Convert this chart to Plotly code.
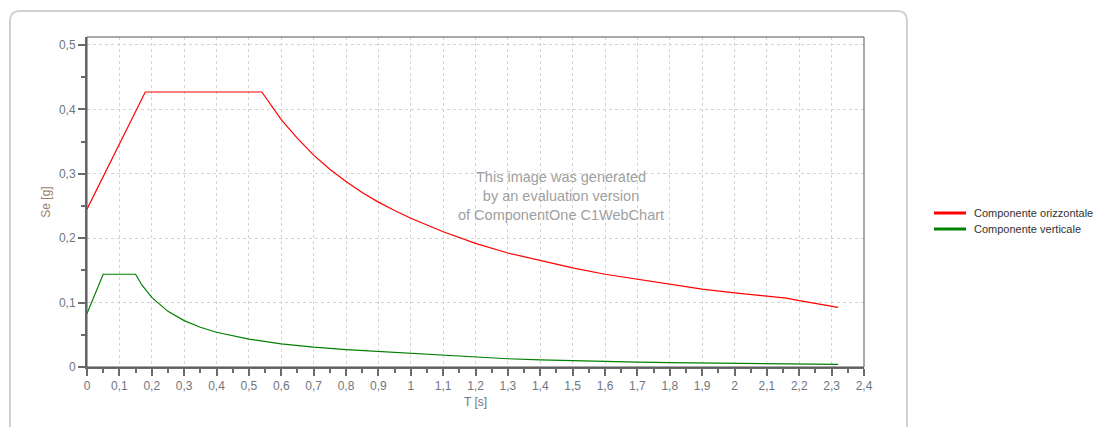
import plotly.graph_objects as go

# ---- data ----
T_oriz = [0, 0.18, 0.54, 0.56, 0.58, 0.6, 0.65, 0.7, 0.75, 0.8, 0.85, 0.9, 0.95, 1.0,
          1.1, 1.2, 1.3, 1.4, 1.5, 1.6, 1.7, 1.8, 1.9, 2.0, 2.1, 2.16, 2.2, 2.25, 2.32]
Se_oriz = [0.245, 0.427, 0.427, 0.412, 0.398, 0.384, 0.355, 0.329, 0.307, 0.288, 0.271, 0.256, 0.243, 0.231,
           0.210, 0.192, 0.177, 0.165, 0.154, 0.144, 0.136, 0.128, 0.121, 0.115, 0.110, 0.107, 0.103, 0.0986, 0.0925]

T_vert = [0, 0.05, 0.15, 0.17, 0.2, 0.25, 0.3, 0.35, 0.4, 0.5, 0.6, 0.7, 0.8, 0.9, 1.0,
          1.1, 1.2, 1.3, 1.4, 1.5, 1.6, 1.7, 1.8, 1.9, 2.0, 2.1, 2.2, 2.32]
Se_vert = [0.083, 0.144, 0.144, 0.127, 0.108, 0.0864, 0.072, 0.0617, 0.054, 0.0432, 0.036, 0.0309, 0.027, 0.024, 0.0216,
           0.0179, 0.0150, 0.0128, 0.0110, 0.0096, 0.0084, 0.0075, 0.0067, 0.0060, 0.0054, 0.0049, 0.0045, 0.0040]

series_names = ["Componente orizzontale", "Componente verticale"]
series_colors = ["#ff0000", "#008000"]

x_tickvals = [0, 0.1, 0.2, 0.3, 0.4, 0.5, 0.6, 0.7, 0.8, 0.9, 1, 1.1, 1.2,
              1.3, 1.4, 1.5, 1.6, 1.7, 1.8, 1.9, 2, 2.1, 2.2, 2.3, 2.4]
x_ticktext = ["0", "0,1", "0,2", "0,3", "0,4", "0,5", "0,6", "0,7", "0,8", "0,9", "1", "1,1", "1,2",
              "1,3", "1,4", "1,5", "1,6", "1,7", "1,8", "1,9", "2", "2,1", "2,2", "2,3", "2,4"]
y_tickvals = [0, 0.1, 0.2, 0.3, 0.4, 0.5]
y_ticktext = ["0", "0,1", "0,2", "0,3", "0,4", "0,5"]

x_title = "T [s]"
y_title = "Se [g]"
watermark = "This image was generated<br>by an evaluation version<br>of ComponentOne C1WebChart"

# ---- layout geometry (page pixels); the figure sits at an 8px page offset ----
OFF = 8
W, H = 1107 - OFF, 427 - OFF
L, R, TOP, BOT = 87 - OFF, 864 - OFF, 37 - OFF, 367 - OFF
pw, ph = R - L, BOT - TOP


def px(xp):
    return (xp - OFF - L) / pw


def py(yp):
    return (BOT - (yp - OFF)) / ph


fig = go.Figure()
for T, S, name, col in [(T_oriz, Se_oriz, series_names[0], series_colors[0]),
                        (T_vert, Se_vert, series_names[1], series_colors[1])]:
    fig.add_trace(go.Scatter(x=T, y=S, mode="lines", name=name,
                             line=dict(color=col, width=1.2), showlegend=False))

FONT = "Liberation Sans, Arial, sans-serif"
tick_font = dict(family=FONT, size=12, color="#6f7680")
GRID_DASH = "3px,3px"

fig.update_layout(
    width=W, height=H,
    margin=dict(l=L, r=W - R, t=TOP, b=H - BOT),
    paper_bgcolor="white", plot_bgcolor="white",
    font=dict(family=FONT, size=12, color="#6f7680"),
    xaxis=dict(
        range=[0, 2.4], tickvals=x_tickvals, ticktext=x_ticktext,
        showgrid=True, gridcolor="#d4d4d4", griddash=GRID_DASH, gridwidth=1,
        zeroline=False, showline=True, linecolor="#6a6a6a", linewidth=2,
        ticks="outside", ticklen=7, tickwidth=2, tickcolor="#6a6a6a",
        tickfont=tick_font,
        minor=dict(dtick=0.05, tick0=0, ticks="outside", ticklen=4, tickwidth=2,
                   tickcolor="#6a6a6a", showgrid=False),
        title=dict(text=x_title, standoff=5, font=dict(size=12, color="#6f7680")),
    ),
    yaxis=dict(
        range=[0, 0.5124], tickvals=y_tickvals, ticktext=y_ticktext,
        showgrid=True, gridcolor="#d4d4d4", griddash=GRID_DASH, gridwidth=1,
        zeroline=False, showline=True, linecolor="#6a6a6a", linewidth=2,
        ticks="outside", ticklen=7, tickwidth=2, tickcolor="#6a6a6a",
        tickfont=tick_font,
        minor=dict(dtick=0.05, tick0=0, ticks="outside", ticklen=4, tickwidth=2,
                   tickcolor="#6a6a6a", showgrid=False),
        title=dict(text=y_title, standoff=6, font=dict(size=12, color="#9a8070")),
    ),
)

shapes = []
# frame (top and right)
shapes.append(dict(type="rect", xref="paper", yref="paper", x0=0, x1=1, y0=0, y1=1,
                   line=dict(color="#555555", width=1), layer="above"))

# rounded outer border
bx0, bx1, by0 = px(10), px(907), py(11)
byb = py(440)
rx, ry = 10 / pw, 10 / ph
path = (f"M {bx0},{byb} L {bx0},{by0 - ry} Q {bx0},{by0} {bx0 + rx},{by0} "
        f"L {bx1 - rx},{by0} Q {bx1},{by0} {bx1},{by0 - ry} L {bx1},{byb}")
shapes.append(dict(type="path", xref="paper", yref="paper", path=path,
                   line=dict(color="#d2d2d2", width=2)))

annotations = [dict(text=watermark, xref="paper", yref="paper", x=px(561), y=py(196),
                    showarrow=False, align="center",
                    font=dict(size=14.5, color="#a0a0a0", family=FONT))]

# manual legend
leg_y = [213, 229]
for i in range(2):
    shapes.append(dict(type="line", xref="paper", yref="paper",
                       x0=px(934), x1=px(966), y0=py(leg_y[i]), y1=py(leg_y[i]),
                       line=dict(color=series_colors[i], width=3)))
    annotations.append(dict(text=series_names[i], xref="paper", yref="paper",
                            x=px(972), y=py(leg_y[i]), xanchor="left", yanchor="middle",
                            showarrow=False,
                            font=dict(size=11, color="#333333", family=FONT)))

fig.update_layout(shapes=shapes, annotations=annotations)
fig.write_html("out.html")
